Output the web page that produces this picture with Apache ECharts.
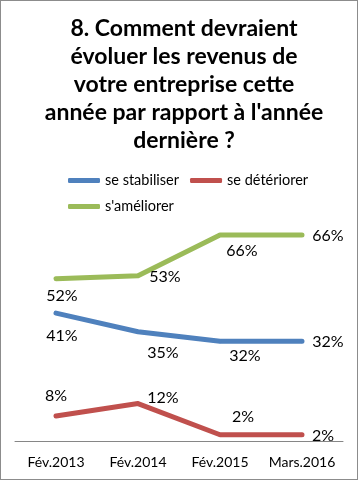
<!DOCTYPE html>
<html><head><meta charset="utf-8">
<script src="https://cdn.jsdelivr.net/npm/echarts@6/dist/echarts.min.js"></script>
<style>html,body{margin:0;padding:0;background:#fff}#c{width:358px;height:480px}#b{position:absolute;left:0;top:0;width:358px;height:480px;box-sizing:border-box;border:1px solid #8c8c8c;pointer-events:none}</style>
</head><body><div id="c"></div><div id="b"></div>
<script>
const categories = ['Fév.2013', 'Fév.2014', 'Fév.2015', 'Mars.2016'];
const stabiliser = [41, 35, 32, 32];
const deteriorer = [8, 12, 2, 2];
const ameliorer = [52, 53, 66, 66];
const seriesNames = ['se stabiliser', 'se détériorer', "s'améliorer"];
const titleText = "8. Comment devraient\névoluer les revenus de\nvotre entreprise cette\nannée par rapport à l'année\ndernière ?";

const FONT = 'Lato';
const chart = echarts.init(document.getElementById('c'));
function mk(name, vals, color, offsets) {
  return {
    name: name, type: 'line', data: vals.map((v, i) => ({
      value: v,
      label: { offset: offsets[i] }
    })),
    symbol: 'circle', symbolSize: 4, showSymbol: true,
    itemStyle: { color: color },
    lineStyle: { color: color, width: 5, cap: 'round', join: 'round' },
    label: { show: true, position: 'inside', formatter: '{c}%', color: '#000', fontFamily: FONT, fontSize: 16 },
    emphasis: { disabled: true }, animation: false
  };
}
chart.setOption({
  animation: false,
  title: { text: titleText, left: 179, top: 10, textAlign: 'center',
    textStyle: { fontFamily: FONT, fontWeight: 'bold', fontSize: 23, lineHeight: 28, color: '#000' } },
  legend: {
    left: 63, top: 168, width: 250, itemWidth: 32, itemHeight: 5, itemGap: 11,
    icon: 'roundRect',
    textStyle: { fontFamily: FONT, fontSize: 14.5, color: '#000' },
    data: seriesNames
  },
  grid: { left: 15, right: 15, top: 222.6, bottom: 39 },
  xAxis: { type: 'category', data: categories, boundaryGap: true,
    axisLine: { lineStyle: { color: '#868686', width: 1 } }, axisTick: { show: false },
    axisLabel: { fontFamily: FONT, fontSize: 14, color: '#000', margin: 14, interval: 0 } },
  yAxis: { type: 'value', min: 0, max: 70, show: false, splitLine: { show: false } },
  series: [
    mk(seriesNames[0], stabiliser, '#4F81BD', [[6, 23], [25, 21], [25, 15], [26, 1]]),
    mk(seriesNames[1], deteriorer, '#C0504D', [[0, -20], [25, -6], [23, -18], [21, 1]]),
    mk(seriesNames[2], ameliorer, '#9BBB59', [[6, 17], [27, 1], [22, 16], [26, 1]])
  ]
});
</script></body></html>
